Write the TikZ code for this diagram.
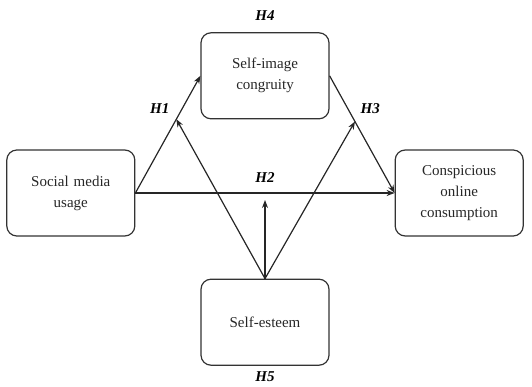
\documentclass[tikz,border=0pt]{standalone}
\usepackage{fontspec}
\setmainfont{Liberation Serif}
\usetikzlibrary{matrix,calc,positioning,arrows.meta}

\tikzset{
hyp/.style={font={\fontsize{15}{18}\selectfont\bfseries\itshape}},
link/.style={line width=1.2pt,draw=black!85,-{Stealth[length=8pt,width=6pt]}}
}

\begin{document}
\begin{tikzpicture}[x=1pt,y=1pt]
\useasboundingbox (0,0) rectangle (532,-387);

\matrix (m) [matrix of nodes,
inner sep=0pt,
nodes={draw=black!80,line width=1.2pt,rounded corners=10pt,anchor=center,
  text width=100pt,align=center,minimum width=128pt,minimum height=86pt,
  font={\fontsize{15}{21}\selectfont},text=black!85},
column sep=65pt,row sep=0pt
] at (265,-199) {
&{Self-image\\congruity}&\\[30pt]
{Social media\\usage}&&{Conspicious\\online\\consumption}\\[42pt]
&Self-esteem&\\
};

% main paths
\draw[link] (m-2-1.east) -- node[hyp,pos=0.72,left=9pt] (h1) {H1} (m-1-2.west);
\draw[link] (m-1-2.east) -- node[hyp,pos=0.28,right=9pt] (h3) {H3} (m-2-3.west);
\draw[link] (m-2-1.east) -- node[hyp,midway,above=7pt] (h2) {H2} (m-2-3.west);

\node[hyp,above=8pt of m-1-2] (h4) {H4};
\node[hyp,below=2pt of m-3-2] (h5) {H5};

% moderation
\coordinate (h1m) at ($(m-2-1.east)!0.63!(m-1-2.west)$);
\coordinate (h3m) at ($(m-2-3.west)!0.61!(m-1-2.east)$);
\coordinate (h2m) at ([yshift=-7pt]m-3-2.north |- m-2-1.east);

\foreach \t in {h1m,h2m,h3m} {
\draw[link] (m-3-2.north) -- (\t);
};
\end{tikzpicture}
\end{document}
